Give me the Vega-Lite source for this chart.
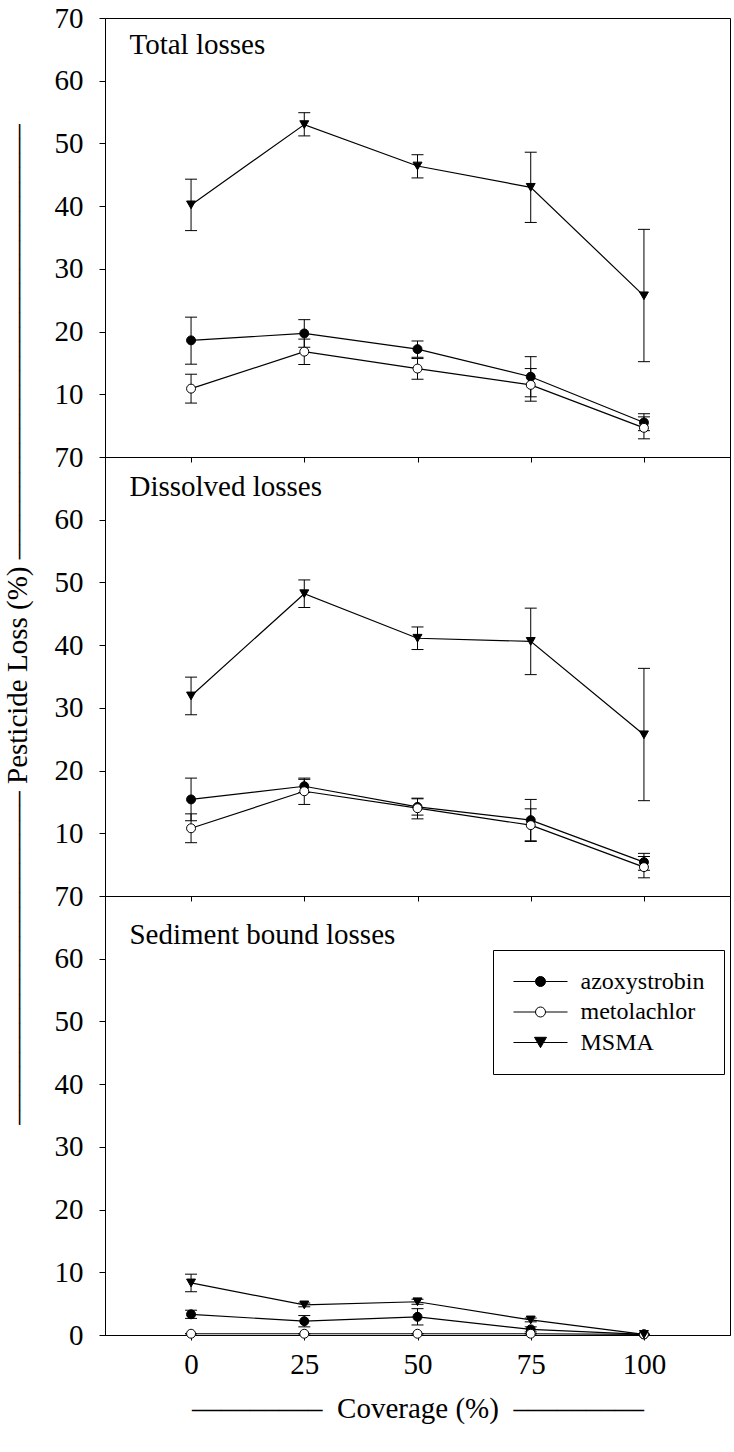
{
  "$schema": "https://vega.github.io/schema/vega-lite/v6.json",
  "padding": {"left": 2, "top": 3, "right": 3, "bottom": 5},
  "background": "white",
  "config": {
    "font": "Liberation Serif",
    "view": {"stroke": "black", "strokeWidth": 1},
    "axis": {
      "domainColor": "black", "tickColor": "black", "labelColor": "black", "titleColor": "black",
      "labelFont": "Liberation Serif", "titleFont": "Liberation Serif",
      "labelFontSize": 29, "titleFontSize": 29, "titleFontWeight": "normal",
      "grid": false, "tickSize": 6, "domainWidth": 1, "tickWidth": 1, "titleLimit": 3000
    }
  },
  "datasets": {
    "panelnames": [
      {"panel": "total", "label": "Total losses"},
      {"panel": "dissolved", "label": "Dissolved losses"},
      {"panel": "sediment", "label": "Sediment bound losses"}
    ],
    "d": [
      {"panel": "total", "series": "azoxystrobin", "coverage": 0, "mean": 18.6, "lo": 14.8, "hi": 22.3},
      {"panel": "total", "series": "azoxystrobin", "coverage": 25, "mean": 19.7, "lo": 17.5, "hi": 21.9},
      {"panel": "total", "series": "azoxystrobin", "coverage": 50, "mean": 17.2, "lo": 15.9, "hi": 18.5},
      {"panel": "total", "series": "azoxystrobin", "coverage": 75, "mean": 12.8, "lo": 9.6, "hi": 16.0},
      {"panel": "total", "series": "azoxystrobin", "coverage": 100, "mean": 5.5, "lo": 4.2, "hi": 6.9},
      {"panel": "total", "series": "metolachlor", "coverage": 0, "mean": 10.9, "lo": 8.6, "hi": 13.2},
      {"panel": "total", "series": "metolachlor", "coverage": 25, "mean": 16.8, "lo": 14.75, "hi": 18.8},
      {"panel": "total", "series": "metolachlor", "coverage": 50, "mean": 14.1, "lo": 12.4, "hi": 15.7},
      {"panel": "total", "series": "metolachlor", "coverage": 75, "mean": 11.5, "lo": 8.9, "hi": 14.1},
      {"panel": "total", "series": "metolachlor", "coverage": 100, "mean": 4.65, "lo": 2.9, "hi": 6.4},
      {"panel": "total", "series": "MSMA", "coverage": 0, "mean": 40.2, "lo": 36.1, "hi": 44.3},
      {"panel": "total", "series": "MSMA", "coverage": 25, "mean": 53.0, "lo": 51.2, "hi": 54.9},
      {"panel": "total", "series": "MSMA", "coverage": 50, "mean": 46.4, "lo": 44.5, "hi": 48.2},
      {"panel": "total", "series": "MSMA", "coverage": 75, "mean": 43.0, "lo": 37.4, "hi": 48.6},
      {"panel": "total", "series": "MSMA", "coverage": 100, "mean": 25.7, "lo": 15.2, "hi": 36.3},

      {"panel": "dissolved", "series": "azoxystrobin", "coverage": 0, "mean": 15.4, "lo": 12.0, "hi": 18.8},
      {"panel": "dissolved", "series": "azoxystrobin", "coverage": 25, "mean": 17.5, "lo": 16.5, "hi": 18.6},
      {"panel": "dissolved", "series": "azoxystrobin", "coverage": 50, "mean": 14.2, "lo": 12.9, "hi": 15.5},
      {"panel": "dissolved", "series": "azoxystrobin", "coverage": 75, "mean": 12.1, "lo": 8.8, "hi": 15.4},
      {"panel": "dissolved", "series": "azoxystrobin", "coverage": 100, "mean": 5.4, "lo": 4.1, "hi": 6.8},
      {"panel": "dissolved", "series": "metolachlor", "coverage": 0, "mean": 10.8, "lo": 8.5, "hi": 13.1},
      {"panel": "dissolved", "series": "metolachlor", "coverage": 25, "mean": 16.7, "lo": 14.6, "hi": 18.8},
      {"panel": "dissolved", "series": "metolachlor", "coverage": 50, "mean": 14.0, "lo": 12.3, "hi": 15.6},
      {"panel": "dissolved", "series": "metolachlor", "coverage": 75, "mean": 11.3, "lo": 8.7, "hi": 13.9},
      {"panel": "dissolved", "series": "metolachlor", "coverage": 100, "mean": 4.6, "lo": 2.9, "hi": 6.3},
      {"panel": "dissolved", "series": "MSMA", "coverage": 0, "mean": 31.9, "lo": 28.9, "hi": 34.9},
      {"panel": "dissolved", "series": "MSMA", "coverage": 25, "mean": 48.2, "lo": 46.0, "hi": 50.4},
      {"panel": "dissolved", "series": "MSMA", "coverage": 50, "mean": 41.1, "lo": 39.3, "hi": 42.9},
      {"panel": "dissolved", "series": "MSMA", "coverage": 75, "mean": 40.6, "lo": 35.3, "hi": 45.9},
      {"panel": "dissolved", "series": "MSMA", "coverage": 100, "mean": 25.7, "lo": 15.2, "hi": 36.3},

      {"panel": "sediment", "series": "azoxystrobin", "coverage": 0, "mean": 3.3, "lo": 2.65, "hi": 3.95},
      {"panel": "sediment", "series": "azoxystrobin", "coverage": 25, "mean": 2.2, "lo": 1.3, "hi": 3.1},
      {"panel": "sediment", "series": "azoxystrobin", "coverage": 50, "mean": 2.9, "lo": 1.6, "hi": 4.2},
      {"panel": "sediment", "series": "azoxystrobin", "coverage": 75, "mean": 0.9, "lo": 0.5, "hi": 1.3},
      {"panel": "sediment", "series": "azoxystrobin", "coverage": 100, "mean": 0.1, "lo": 0.1, "hi": 0.1},
      {"panel": "sediment", "series": "metolachlor", "coverage": 0, "mean": 0.2, "lo": 0.2, "hi": 0.2},
      {"panel": "sediment", "series": "metolachlor", "coverage": 25, "mean": 0.2, "lo": 0.2, "hi": 0.2},
      {"panel": "sediment", "series": "metolachlor", "coverage": 50, "mean": 0.2, "lo": 0.2, "hi": 0.2},
      {"panel": "sediment", "series": "metolachlor", "coverage": 75, "mean": 0.2, "lo": 0.2, "hi": 0.2},
      {"panel": "sediment", "series": "metolachlor", "coverage": 100, "mean": 0.1, "lo": 0.1, "hi": 0.1},
      {"panel": "sediment", "series": "MSMA", "coverage": 0, "mean": 8.3, "lo": 6.9, "hi": 9.7},
      {"panel": "sediment", "series": "MSMA", "coverage": 25, "mean": 4.8, "lo": 4.5, "hi": 5.1},
      {"panel": "sediment", "series": "MSMA", "coverage": 50, "mean": 5.3, "lo": 4.9, "hi": 5.7},
      {"panel": "sediment", "series": "MSMA", "coverage": 75, "mean": 2.4, "lo": 2.1, "hi": 2.7},
      {"panel": "sediment", "series": "MSMA", "coverage": 100, "mean": 0.1, "lo": 0.1, "hi": 0.1}
    ]
  },
  "spacing": 0,
  "bounds": "flush",
  "resolve": {
    "scale": {"y": "independent", "shape": "independent", "fill": "independent", "size": "independent", "stroke": "independent"},
    "legend": {"shape": "independent", "fill": "independent", "size": "independent", "stroke": "independent"}
  },
  "vconcat": [
    {
      "width": 625, "height": 439,
      "layer": [
        {"data": {"name": "d"}, "transform": [{"filter": "datum.panel === 'total'"}],
         "mark": {"type": "rule", "color": "black", "strokeWidth": 1},
         "encoding": {
           "x": {"field": "coverage", "type": "quantitative", "scale": {"domain": [-19, 119], "nice": false, "zero": false},
                 "axis": {"values": [0, 25, 50, 75, 100], "labels": false, "title": null, "tickSize": 5}},
           "y": {"field": "lo", "type": "quantitative", "scale": {"domain": [0, 70], "nice": false, "zero": false},
                 "axis": {"values": [10, 20, 30, 40, 50, 60, 70], "title": null, "labelPadding": 16}},
           "y2": {"field": "hi"}}},
        {"data": {"name": "d"}, "transform": [{"filter": "datum.panel === 'total'"}],
         "mark": {"type": "tick", "orient": "horizontal", "color": "black", "opacity": 1, "size": 12, "thickness": 1},
         "encoding": {"x": {"field": "coverage", "type": "quantitative"}, "y": {"field": "lo", "type": "quantitative"}}},
        {"data": {"name": "d"}, "transform": [{"filter": "datum.panel === 'total'"}],
         "mark": {"type": "tick", "orient": "horizontal", "color": "black", "opacity": 1, "size": 12, "thickness": 1},
         "encoding": {"x": {"field": "coverage", "type": "quantitative"}, "y": {"field": "hi", "type": "quantitative"}}},
        {"data": {"name": "d"}, "transform": [{"filter": "datum.panel === 'total'"}],
         "mark": {"type": "line", "color": "black", "strokeWidth": 1.2},
         "encoding": {"x": {"field": "coverage", "type": "quantitative"}, "y": {"field": "mean", "type": "quantitative"}, "detail": {"field": "series"}}},
        {"data": {"name": "d"}, "transform": [{"filter": "datum.panel === 'total'"}],
         "mark": {"type": "point", "filled": true, "stroke": "black", "strokeWidth": 1, "opacity": 1},
         "encoding": {
           "x": {"field": "coverage", "type": "quantitative"},
           "y": {"field": "mean", "type": "quantitative"},
           "shape": {"field": "series", "type": "nominal", "scale": {"domain": ["azoxystrobin", "metolachlor", "MSMA"], "range": ["circle", "circle", "triangle-down"]}, "legend": null},
           "fill": {"field": "series", "type": "nominal", "scale": {"domain": ["azoxystrobin", "metolachlor", "MSMA"], "range": ["black", "white", "black"]}, "legend": null},
           "size": {"field": "series", "type": "nominal", "scale": {"domain": ["azoxystrobin", "metolachlor", "MSMA"], "range": [80, 80, 144]}, "legend": null}
         }},
        {"data": {"name": "panelnames"}, "transform": [{"filter": "datum.panel === 'total'"}],
         "mark": {"type": "text", "align": "left", "baseline": "alphabetic", "font": "Liberation Serif", "fontSize": 29, "fill": "black", "opacity": 1},
         "encoding": {"x": {"datum": -13.6, "type": "quantitative"}, "y": {"datum": 64.2, "type": "quantitative"}, "text": {"field": "label", "type": "nominal"}}}
      ]
    },
    {
      "width": 625, "height": 439,
      "layer": [
        {"data": {"name": "d"}, "transform": [{"filter": "datum.panel === 'dissolved'"}],
         "mark": {"type": "rule", "color": "black", "strokeWidth": 1},
         "encoding": {
           "x": {"field": "coverage", "type": "quantitative", "scale": {"domain": [-19, 119], "nice": false, "zero": false},
                 "axis": {"values": [0, 25, 50, 75, 100], "labels": false, "title": null, "tickSize": 5}},
           "y": {"field": "lo", "type": "quantitative", "scale": {"domain": [0, 70], "nice": false, "zero": false},
                 "axis": {"values": [10, 20, 30, 40, 50, 60, 70], "labelPadding": 16, "titlePadding": 22, "titleY": 167,
                          "title": "––––––––––––––––––––––– Pesticide Loss (%) ––––––––––––––––––––––––––––––"}},
           "y2": {"field": "hi"}}},
        {"data": {"name": "d"}, "transform": [{"filter": "datum.panel === 'dissolved'"}],
         "mark": {"type": "tick", "orient": "horizontal", "color": "black", "opacity": 1, "size": 12, "thickness": 1},
         "encoding": {"x": {"field": "coverage", "type": "quantitative"}, "y": {"field": "lo", "type": "quantitative"}}},
        {"data": {"name": "d"}, "transform": [{"filter": "datum.panel === 'dissolved'"}],
         "mark": {"type": "tick", "orient": "horizontal", "color": "black", "opacity": 1, "size": 12, "thickness": 1},
         "encoding": {"x": {"field": "coverage", "type": "quantitative"}, "y": {"field": "hi", "type": "quantitative"}}},
        {"data": {"name": "d"}, "transform": [{"filter": "datum.panel === 'dissolved'"}],
         "mark": {"type": "line", "color": "black", "strokeWidth": 1.2},
         "encoding": {"x": {"field": "coverage", "type": "quantitative"}, "y": {"field": "mean", "type": "quantitative"}, "detail": {"field": "series"}}},
        {"data": {"name": "d"}, "transform": [{"filter": "datum.panel === 'dissolved'"}],
         "mark": {"type": "point", "filled": true, "stroke": "black", "strokeWidth": 1, "opacity": 1},
         "encoding": {
           "x": {"field": "coverage", "type": "quantitative"},
           "y": {"field": "mean", "type": "quantitative"},
           "shape": {"field": "series", "type": "nominal", "scale": {"domain": ["azoxystrobin", "metolachlor", "MSMA"], "range": ["circle", "circle", "triangle-down"]}, "legend": null},
           "fill": {"field": "series", "type": "nominal", "scale": {"domain": ["azoxystrobin", "metolachlor", "MSMA"], "range": ["black", "white", "black"]}, "legend": null},
           "size": {"field": "series", "type": "nominal", "scale": {"domain": ["azoxystrobin", "metolachlor", "MSMA"], "range": [80, 80, 144]}, "legend": null}
         }},
        {"data": {"name": "panelnames"}, "transform": [{"filter": "datum.panel === 'dissolved'"}],
         "mark": {"type": "text", "align": "left", "baseline": "alphabetic", "font": "Liberation Serif", "fontSize": 29, "fill": "black", "opacity": 1},
         "encoding": {"x": {"datum": -13.6, "type": "quantitative"}, "y": {"datum": 63.83, "type": "quantitative"}, "text": {"field": "label", "type": "nominal"}}}
      ]
    },
    {
      "width": 625, "height": 439,
      "resolve": {"scale": {"shape": "independent", "fill": "independent", "size": "independent", "stroke": "independent"}},
      "layer": [
        {"data": {"name": "d"}, "transform": [{"filter": "datum.panel === 'sediment'"}],
         "mark": {"type": "rule", "color": "black", "strokeWidth": 1},
         "encoding": {
           "x": {"field": "coverage", "type": "quantitative", "scale": {"domain": [-19, 119], "nice": false, "zero": false},
                 "axis": {"values": [0, 25, 50, 75, 100], "tickSize": 5, "labelPadding": 10, "titlePadding": 15,
                          "title": "–––––––––\u2002Coverage (%)\u2002–––––––––"}},
           "y": {"field": "lo", "type": "quantitative", "scale": {"domain": [0, 70], "nice": false, "zero": false},
                 "axis": {"values": [0, 10, 20, 30, 40, 50, 60, 70], "title": null, "labelPadding": 16}},
           "y2": {"field": "hi"}}},
        {"data": {"name": "d"}, "transform": [{"filter": "datum.panel === 'sediment'"}],
         "mark": {"type": "tick", "orient": "horizontal", "color": "black", "opacity": 1, "size": 12, "thickness": 1},
         "encoding": {"x": {"field": "coverage", "type": "quantitative"}, "y": {"field": "lo", "type": "quantitative"}}},
        {"data": {"name": "d"}, "transform": [{"filter": "datum.panel === 'sediment'"}],
         "mark": {"type": "tick", "orient": "horizontal", "color": "black", "opacity": 1, "size": 12, "thickness": 1},
         "encoding": {"x": {"field": "coverage", "type": "quantitative"}, "y": {"field": "hi", "type": "quantitative"}}},
        {"data": {"name": "d"}, "transform": [{"filter": "datum.panel === 'sediment'"}],
         "mark": {"type": "line", "color": "black", "strokeWidth": 1.2},
         "encoding": {"x": {"field": "coverage", "type": "quantitative"}, "y": {"field": "mean", "type": "quantitative"}, "detail": {"field": "series"}}},
        {"data": {"name": "d"}, "transform": [{"filter": "datum.panel === 'sediment'"}],
         "mark": {"type": "point", "filled": true, "stroke": "black", "strokeWidth": 1, "opacity": 1},
         "encoding": {
           "x": {"field": "coverage", "type": "quantitative"},
           "y": {"field": "mean", "type": "quantitative"},
           "shape": {"field": "series", "type": "nominal", "scale": {"domain": ["azoxystrobin", "metolachlor", "MSMA"], "range": ["circle", "circle", "triangle-down"]}, "legend": null},
           "fill": {"field": "series", "type": "nominal", "scale": {"domain": ["azoxystrobin", "metolachlor", "MSMA"], "range": ["black", "white", "black"]}, "legend": null},
           "size": {"field": "series", "type": "nominal", "scale": {"domain": ["azoxystrobin", "metolachlor", "MSMA"], "range": [80, 80, 144]}, "legend": null}
         }},
        {"data": {"name": "d"}, "transform": [{"filter": "datum.panel === 'legend only'"}],
         "mark": {"type": "point", "filled": true, "strokeWidth": 1, "opacity": 1},
         "encoding": {
           "x": {"field": "coverage", "type": "quantitative"},
           "y": {"field": "mean", "type": "quantitative"},
           "shape": {"field": "series", "type": "nominal",
                     "scale": {"domain": ["azoxystrobin", "metolachlor", "MSMA"],
                               "range": ["M-5.4,0H-1M1,0H5.4M1,0A1,1,0,1,1,-1,0A1,1,0,1,1,1,0Z", "M-5.4,0H-1M1,0H5.4M1,0A1,1,0,1,1,-1,0A1,1,0,1,1,1,0Z", "M-5.4,0H5.4M-1.2,-1.04L1.2,-1.04L0,1.04Z"]},
                     "legend": {"title": null, "orient": "none", "legendX": 388, "legendY": 54, "padding": 19.5,
                                "symbolOffset": 16, "labelOffset": 28, "rowPadding": 6.5, "symbolSize": 100,
                                "symbolOpacity": 1, "symbolStrokeWidth": 1,
                                "strokeColor": "black", "fillColor": "white",
                                "labelFont": "Liberation Serif", "labelFontSize": 24, "labelColor": "black"}},
           "fill": {"field": "series", "type": "nominal", "scale": {"domain": ["azoxystrobin", "metolachlor", "MSMA"], "range": ["black", "white", "black"]}},
           "stroke": {"field": "series", "type": "nominal", "scale": {"domain": ["azoxystrobin", "metolachlor", "MSMA"], "range": ["black", "black", "black"]}}
         }},
        {"data": {"name": "panelnames"}, "transform": [{"filter": "datum.panel === 'sediment'"}],
         "mark": {"type": "text", "align": "left", "baseline": "alphabetic", "font": "Liberation Serif", "fontSize": 29, "fill": "black", "opacity": 1},
         "encoding": {"x": {"datum": -13.6, "type": "quantitative"}, "y": {"datum": 62.35, "type": "quantitative"}, "text": {"field": "label", "type": "nominal"}}}
      ]
    }
  ]
}
